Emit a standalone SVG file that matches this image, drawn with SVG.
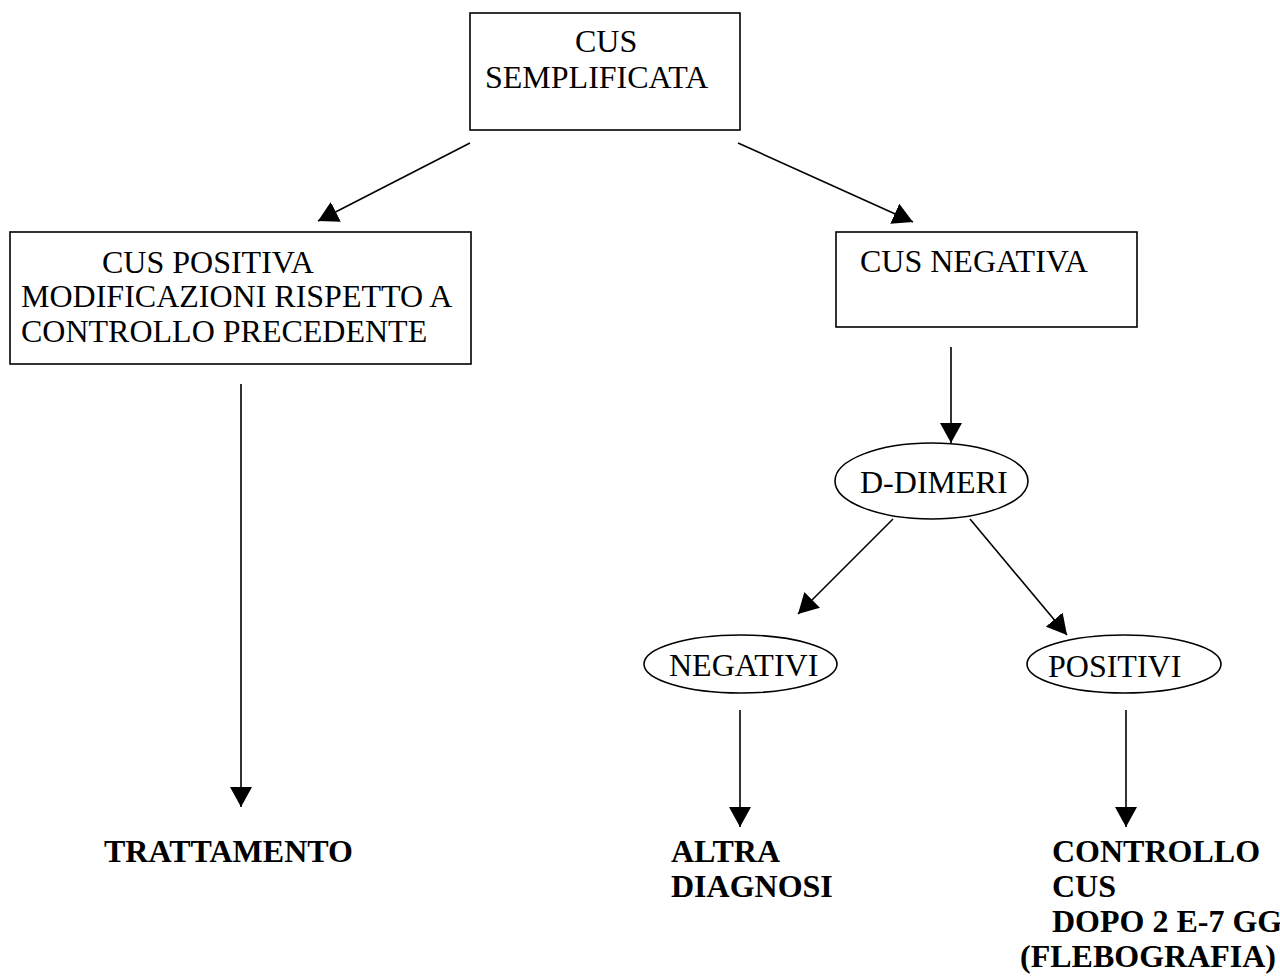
<svg xmlns="http://www.w3.org/2000/svg" width="1280" height="976" viewBox="0 0 1280 976">
<style>
.box{fill:#fff;stroke:#000;stroke-width:1.6}
.t{font-family:"Liberation Serif","Times New Roman",serif;font-size:32px;fill:#000}
.b{font-family:"Liberation Serif","Times New Roman",serif;font-size:32px;font-weight:bold;fill:#000}
.c{stroke:#000;stroke-width:1.6;fill:none;marker-end:url(#ah)}
</style>
<defs>
<marker id="ah" markerUnits="userSpaceOnUse" markerWidth="20" markerHeight="22" refX="20" refY="11" orient="auto" viewBox="0 0 20 22">
<path d="M0,0 L20,11 L0,22 z" fill="#000"/>
</marker>
</defs>
<rect width="1280" height="976" fill="#fff"/>
<g id="connectors">
<line class="c" x1="470" y1="143" x2="318" y2="221"/>
<line class="c" x1="738" y1="143" x2="913" y2="222"/>
<line class="c" x1="951" y1="347" x2="951" y2="443"/>
<line class="c" x1="893" y1="519" x2="798" y2="614"/>
<line class="c" x1="970" y1="519" x2="1067" y2="635"/>
<line class="c" x1="241" y1="384" x2="241" y2="807"/>
<line class="c" x1="740" y1="710" x2="740" y2="827"/>
<line class="c" x1="1126" y1="710" x2="1126" y2="827"/>
</g>
<g id="cus-semplificata">
<rect class="box" x="470" y="13" width="270" height="117"/>
<text class="t" x="575" y="52">CUS</text>
<text class="t" x="485" y="88">SEMPLIFICATA</text>
</g>
<g id="cus-positiva">
<rect class="box" x="10" y="232" width="461" height="132"/>
<text class="t" x="102" y="273">CUS POSITIVA</text>
<text class="t" x="21" y="307">MODIFICAZIONI RISPETTO A</text>
<text class="t" x="21" y="342">CONTROLLO PRECEDENTE</text>
</g>
<g id="cus-negativa">
<rect class="box" x="836" y="232" width="301" height="95"/>
<text class="t" x="860" y="272">CUS NEGATIVA</text>
</g>
<g id="d-dimeri">
<ellipse class="box" cx="931.5" cy="481" rx="96.5" ry="38"/>
<text class="t" x="860" y="493">D-DIMERI</text>
</g>
<g id="negativi">
<ellipse class="box" cx="740.5" cy="664" rx="96.5" ry="29"/>
<text class="t" x="669" y="676">NEGATIVI</text>
</g>
<g id="positivi">
<ellipse class="box" cx="1124" cy="664" rx="97" ry="29"/>
<text class="t" x="1048" y="677">POSITIVI</text>
</g>
<g id="trattamento">
<text class="b" x="104" y="862">TRATTAMENTO</text>
</g>
<g id="altra-diagnosi">
<text class="b" x="671" y="862">ALTRA</text>
<text class="b" x="671" y="897">DIAGNOSI</text>
</g>
<g id="controllo-cus">
<text class="b" x="1052" y="862">CONTROLLO</text>
<text class="b" x="1052" y="897">CUS</text>
<text class="b" x="1052" y="932">DOPO 2 E-7 GG</text>
<text class="b" x="1020" y="967">(FLEBOGRAFIA)</text>
</g>
</svg>
